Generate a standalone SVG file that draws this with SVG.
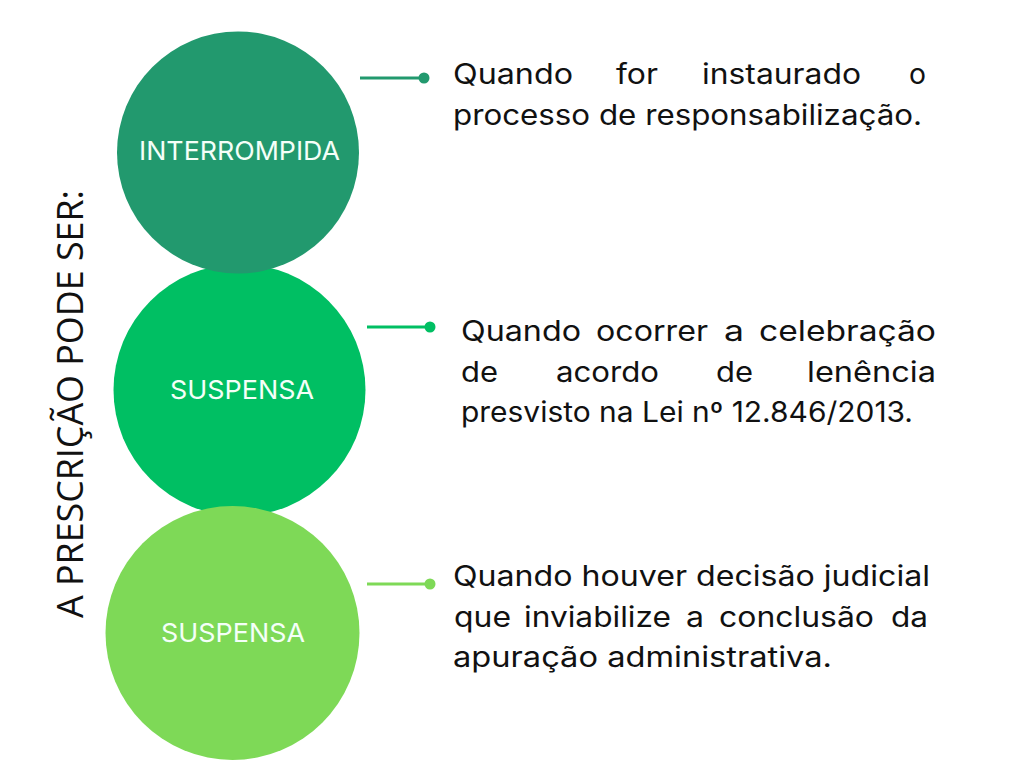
<svg xmlns="http://www.w3.org/2000/svg" width="1024" height="768" viewBox="0 0 1024 768">
<style>
.lbl{font-family:Inter,"Liberation Sans",sans-serif;font-size:26px;fill:#F4FFF8;text-anchor:middle}
.txt{font-family:Inter,"Liberation Sans",sans-serif;font-size:28px;fill:#111111}
.side{font-family:"Open Sans","Liberation Sans",sans-serif;font-size:37px;fill:#111111;text-anchor:middle}
</style>
<rect width="1024" height="768" fill="#FFFFFF"/>
<g id="node-suspensa1">
<circle cx="239.5" cy="390" r="126" fill="#00BF63"/>
<text class="lbl" x="242" y="399" textLength="144" lengthAdjust="spacingAndGlyphs">SUSPENSA</text>
</g>
<g id="node-interrompida">
<circle cx="238" cy="152.5" r="121" fill="#22996E"/>
<text class="lbl" x="239.5" y="160" textLength="201" lengthAdjust="spacingAndGlyphs">INTERROMPIDA</text>
</g>
<g id="node-suspensa2">
<circle cx="232.5" cy="633" r="127" fill="#7ED957"/>
<text class="lbl" x="233" y="642" textLength="144" lengthAdjust="spacingAndGlyphs">SUSPENSA</text>
</g>
<g id="connectors">
<line x1="360" y1="78" x2="424" y2="78" stroke="#22996E" stroke-width="3"/>
<circle cx="424" cy="78" r="5.5" fill="#22996E"/>
<line x1="367" y1="327" x2="430" y2="327" stroke="#00BF63" stroke-width="3"/>
<circle cx="430" cy="327" r="5.5" fill="#00BF63"/>
<line x1="367" y1="584" x2="430" y2="584" stroke="#7ED957" stroke-width="3"/>
<circle cx="430" cy="584" r="5.5" fill="#7ED957"/>
</g>
<g id="side-title">
<text class="side" transform="translate(83,404) rotate(-90)" x="0" y="0" textLength="428" lengthAdjust="spacingAndGlyphs">A PRESCRIÇÃO PODE SER:</text>
</g>
<g id="text-1">
<text class="txt" x="453" y="84" textLength="120" lengthAdjust="spacingAndGlyphs">Quando</text>
<text class="txt" x="616" y="84" textLength="42" lengthAdjust="spacingAndGlyphs">for</text>
<text class="txt" x="702" y="84" textLength="159" lengthAdjust="spacingAndGlyphs">instaurado</text>
<text class="txt" x="909" y="84" textLength="17" lengthAdjust="spacingAndGlyphs">o</text>
<text class="txt" x="453" y="125" textLength="469" lengthAdjust="spacingAndGlyphs">processo de responsabilização.</text>
</g>
<g id="text-2">
<text class="txt" x="461" y="341" textLength="120" lengthAdjust="spacingAndGlyphs">Quando</text>
<text class="txt" x="596" y="341" textLength="112" lengthAdjust="spacingAndGlyphs">ocorrer</text>
<text class="txt" x="724" y="341" textLength="20" lengthAdjust="spacingAndGlyphs">a</text>
<text class="txt" x="759" y="341" textLength="177" lengthAdjust="spacingAndGlyphs">celebração</text>
<text class="txt" x="461" y="382" textLength="37" lengthAdjust="spacingAndGlyphs">de</text>
<text class="txt" x="556" y="382" textLength="103" lengthAdjust="spacingAndGlyphs">acordo</text>
<text class="txt" x="716" y="382" textLength="37" lengthAdjust="spacingAndGlyphs">de</text>
<text class="txt" x="807" y="382" textLength="129" lengthAdjust="spacingAndGlyphs">lenência</text>
<text class="txt" x="461" y="422" textLength="452" lengthAdjust="spacingAndGlyphs">presvisto na Lei nº 12.846/2013.</text>
</g>
<g id="text-3">
<text class="txt" x="453" y="586" textLength="477" lengthAdjust="spacingAndGlyphs">Quando houver decisão judicial</text>
<text class="txt" x="454" y="627" textLength="57" lengthAdjust="spacingAndGlyphs">que</text>
<text class="txt" x="524" y="627" textLength="147" lengthAdjust="spacingAndGlyphs">inviabilize</text>
<text class="txt" x="686" y="627" textLength="18" lengthAdjust="spacingAndGlyphs">a</text>
<text class="txt" x="719" y="627" textLength="155" lengthAdjust="spacingAndGlyphs">conclusão</text>
<text class="txt" x="891" y="627" textLength="37" lengthAdjust="spacingAndGlyphs">da</text>
<text class="txt" x="453" y="667" textLength="379" lengthAdjust="spacingAndGlyphs">apuração administrativa.</text>
</g>
</svg>
